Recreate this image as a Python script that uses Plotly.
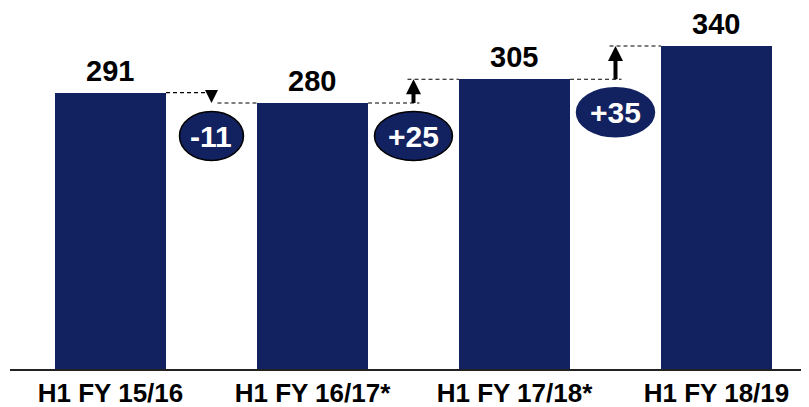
import plotly.graph_objects as go

categories = ["H1 FY 15/16", "H1 FY 16/17*", "H1 FY 17/18*", "H1 FY 18/19"]
values = [291, 280, 305, 340]
change_labels = ["-11", "+25", "+35"]
ellipse_outline = [True, True, False]

NAVY = "#12215f"
FONT = "Liberation Sans, Arial, sans-serif"

# page body has an 8px margin, so the figure is sized to the remaining area
W, H = 801, 399
ML, MR, MT, MB = 2, 0, 0, 38
plot_h = H - MT - MB
ppu = 0.95
YMAX = plot_h / ppu
BAR_W = 0.55

x = list(range(len(categories)))

fig = go.Figure()
fig.add_trace(go.Bar(x=x, y=values, width=BAR_W, marker=dict(color=NAVY, line=dict(width=0)),
                     hoverinfo="skip", showlegend=False))

shapes = []
annotations = []

for xi, v in zip(x, values):
    annotations.append(dict(x=xi, y=v, xref="x", yref="y", text=f"<b>{v}</b>", showarrow=False,
                            yanchor="bottom", yshift=4,
                            font=dict(family=FONT, size=29, color="black")))

for i in range(len(values) - 1):
    v0, v1 = values[i], values[i + 1]
    xm = i + 0.5
    left_edge = i + BAR_W / 2
    right_edge = i + 1 - BAR_W / 2
    ext = 6 / 202
    if v1 >= v0:
        seg1 = (left_edge, xm + ext)
        seg2 = (xm - ext, right_edge)
    else:
        seg1 = (left_edge, xm - ext)
        seg2 = (xm + ext, right_edge)
    for (a, b), lvl in ((seg1, v0), (seg2, v1)):
        shapes.append(dict(type="line", xref="x", yref="y", x0=a, x1=b, y0=lvl, y1=lvl,
                           line=dict(color="black", width=1.2, dash="4px,3px")))
    if v1 >= v0:
        fig.add_trace(go.Scatter(x=[xm, xm], y=[v0, v1 - 8 / ppu], mode="lines",
                                 line=dict(color="black", width=4), hoverinfo="skip", showlegend=False))
        fig.add_trace(go.Scatter(x=[xm], y=[v1], mode="markers",
                                 marker=dict(symbol="arrow-up", size=15, color="black", line=dict(width=0)),
                                 hoverinfo="skip", showlegend=False))
    else:
        fig.add_trace(go.Scatter(x=[xm], y=[v1], mode="markers",
                                 marker=dict(symbol="arrow-down", size=13, color="black", line=dict(width=0)),
                                 hoverinfo="skip", showlegend=False))
    base = min(v0, v1)
    ew = 64 if v1 < v0 else 78
    shapes.append(dict(type="circle", xref="x", yref="y", xsizemode="pixel", ysizemode="pixel",
                       xanchor=xm, yanchor=base, x0=-ew / 2, x1=ew / 2, y0=-33 - 24.5, y1=-33 + 24.5,
                       fillcolor=NAVY,
                       line=dict(color="black" if ellipse_outline[i] else NAVY, width=1.5)))
    annotations.append(dict(x=xm, y=base, xref="x", yref="y", text=f"<b>{change_labels[i]}</b>",
                            showarrow=False, yanchor="middle", yshift=-33,
                            font=dict(family=FONT, size=30, color="white")))

fig.update_layout(
    width=W, height=H,
    margin=dict(l=ML, r=MR, t=MT, b=MB),
    paper_bgcolor="white", plot_bgcolor="white",
    shapes=shapes, annotations=annotations,
    bargap=0,
    xaxis=dict(range=[-0.4975, 3.458], tickvals=x, ticktext=[f"<b>{c}</b>" for c in categories],
               showgrid=False, zeroline=False, showline=True, linecolor="#222", linewidth=2,
               ticks="", tickfont=dict(family=FONT, size=26, color="black"), fixedrange=True),
    yaxis=dict(range=[0, YMAX], visible=False, fixedrange=True),
)

fig.write_html("out.html")
